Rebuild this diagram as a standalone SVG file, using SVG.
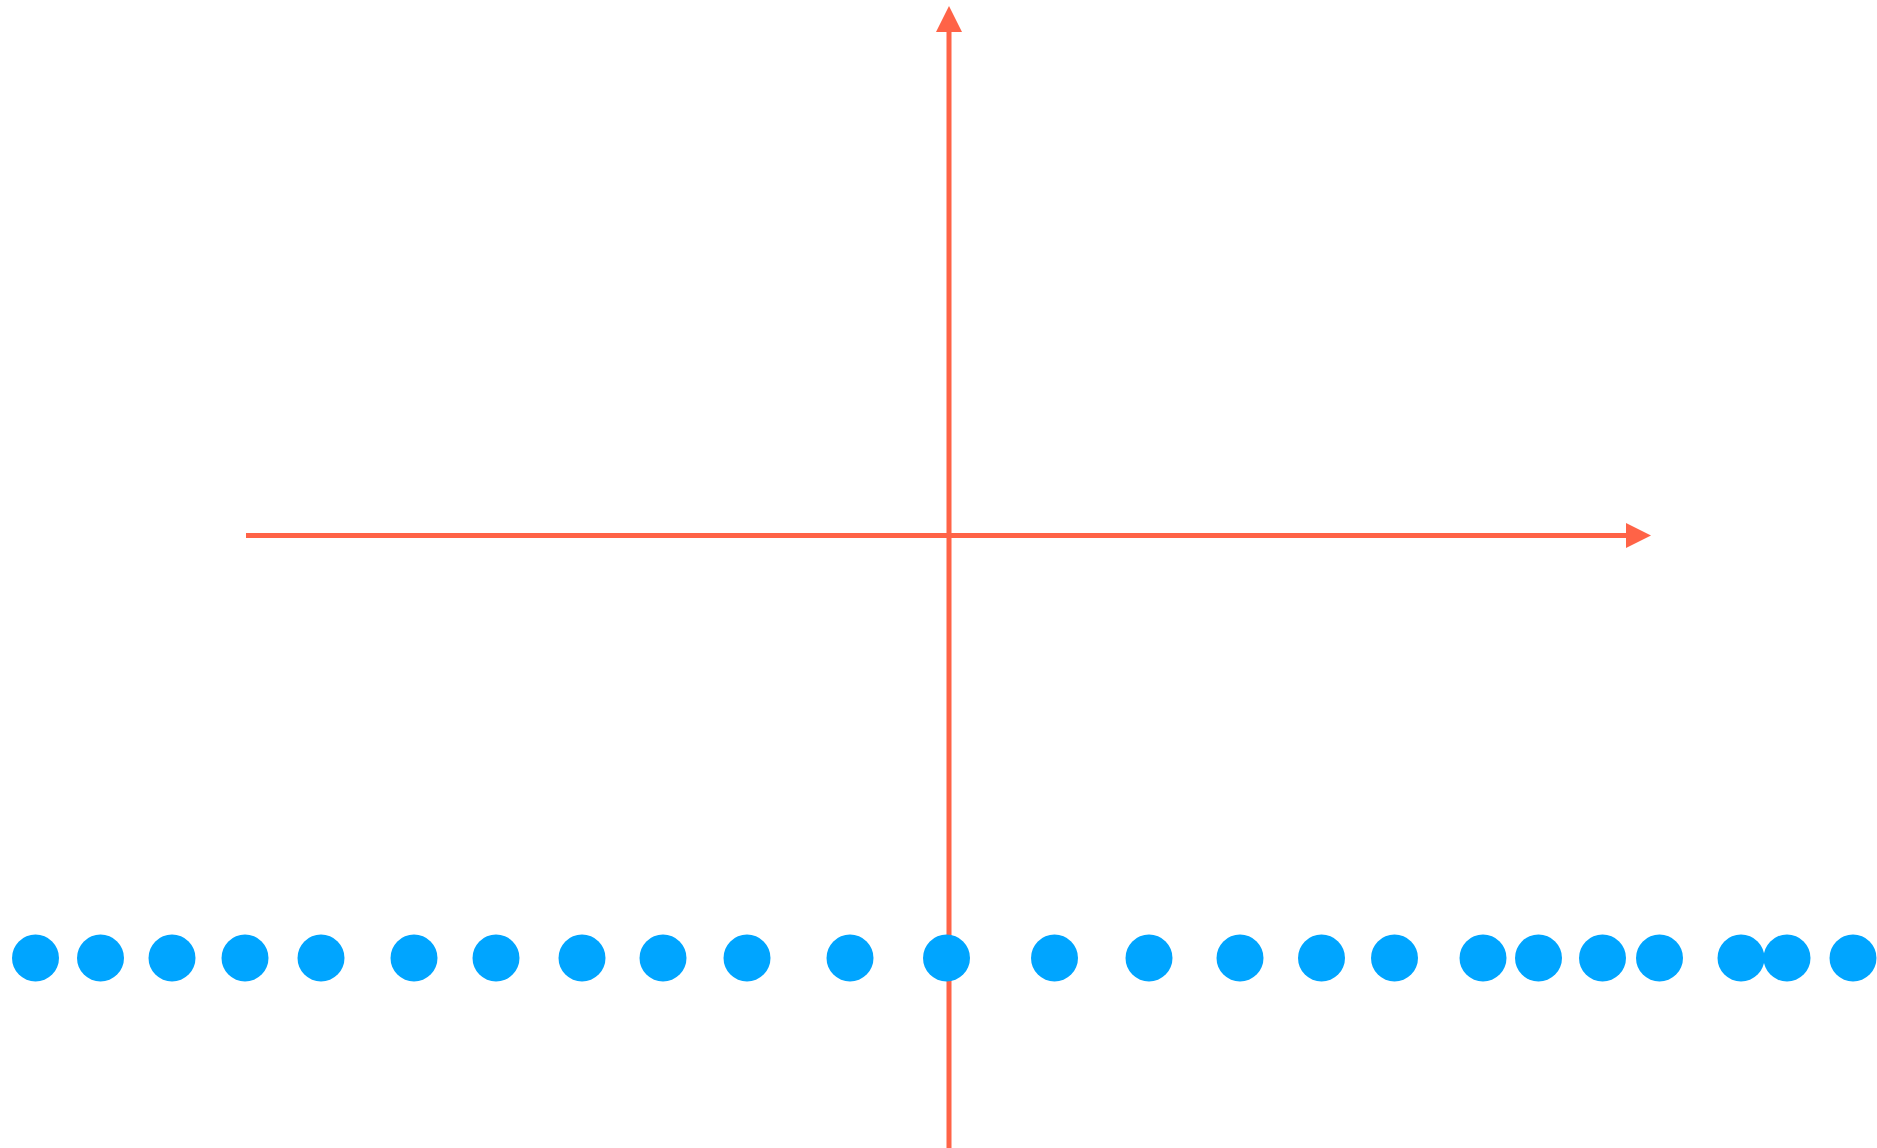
<svg xmlns="http://www.w3.org/2000/svg" width="1877" height="1148" viewBox="0 0 1877 1148">
<style>
.axis{stroke:#FF6347;stroke-width:5;fill:none}
.head{fill:#FF6347}
.dot{fill:#00A5FF}
</style>
<rect width="1877" height="1148" fill="#fff"/>
<g id="connectors">
<line class="axis" x1="949" y1="1148" x2="949" y2="30"/>
<polygon class="head" points="949,6 962,32 936,32"/>
<line class="axis" x1="246" y1="535.5" x2="1628" y2="535.5"/>
<polygon class="head" points="1651,535.5 1626,523 1626,548"/>
</g>
<g id="dots">
<circle id="d1" class="dot" cx="35.5" cy="958" r="23.5"/>
<circle id="d2" class="dot" cx="100.5" cy="958" r="23.5"/>
<circle id="d3" class="dot" cx="172" cy="958" r="23.5"/>
<circle id="d4" class="dot" cx="245" cy="958" r="23.5"/>
<circle id="d5" class="dot" cx="321" cy="958" r="23.5"/>
<circle id="d6" class="dot" cx="414" cy="958" r="23.5"/>
<circle id="d7" class="dot" cx="496" cy="958" r="23.5"/>
<circle id="d8" class="dot" cx="582" cy="958" r="23.5"/>
<circle id="d9" class="dot" cx="663" cy="958" r="23.5"/>
<circle id="d10" class="dot" cx="747" cy="958" r="23.5"/>
<circle id="d11" class="dot" cx="850" cy="958" r="23.5"/>
<circle id="d12" class="dot" cx="946.5" cy="958" r="23.5"/>
<circle id="d13" class="dot" cx="1054.5" cy="958" r="23.5"/>
<circle id="d14" class="dot" cx="1149" cy="958" r="23.5"/>
<circle id="d15" class="dot" cx="1240" cy="958" r="23.5"/>
<circle id="d16" class="dot" cx="1321.5" cy="958" r="23.5"/>
<circle id="d17" class="dot" cx="1394.5" cy="958" r="23.5"/>
<circle id="d18" class="dot" cx="1483" cy="958" r="23.5"/>
<circle id="d19" class="dot" cx="1538.5" cy="958" r="23.5"/>
<circle id="d20" class="dot" cx="1602.5" cy="958" r="23.5"/>
<circle id="d21" class="dot" cx="1659.5" cy="958" r="23.5"/>
<circle id="d22" class="dot" cx="1741" cy="958" r="23.5"/>
<circle id="d23" class="dot" cx="1787" cy="958" r="23.5"/>
<circle id="d24" class="dot" cx="1853" cy="958" r="23.5"/>
</g>
</svg>
